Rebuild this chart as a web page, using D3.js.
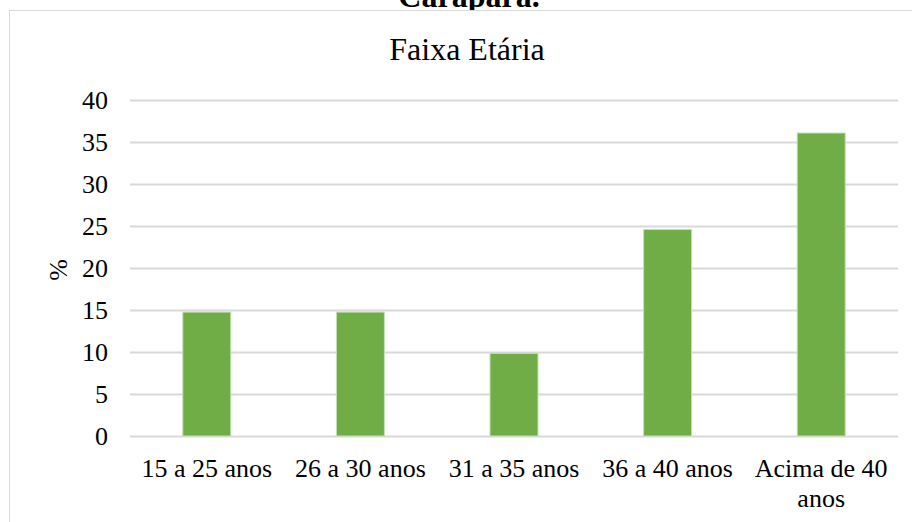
<!DOCTYPE html>
<html>
<head>
<meta charset="utf-8">
<script src="https://cdn.jsdelivr.net/npm/d3@7"></script>
<style>
  html, body { margin: 0; padding: 0; background: #fff; }
  svg { display: block; }
  svg text { font-family: "Times New Roman", Times, "Liberation Serif", Tinos, "DejaVu Serif", serif; fill: #000; }
</style>
</head>
<body>
<svg id="chart" width="912" height="522"></svg>
<script>
// Age groups and their share of respondents (%)
const categories = ["15 a 25 anos", "26 a 30 anos", "31 a 35 anos", "36 a 40 anos", "Acima de 40 anos"];
const percentages = [14.75, 14.75, 9.84, 24.59, 36.07];
const yTicks = [0, 5, 10, 15, 20, 25, 30, 35, 40];

const serif = '"Times New Roman", Times, "Liberation Serif", Tinos, "DejaVu Serif", serif';
const svg = d3.select("#chart");

// caption line from the surrounding document, cut by the top edge
svg.append("text")
  .attr("x", 469).attr("y", 7)
  .attr("text-anchor", "middle")
  .attr("font-family", serif)
  .style("font-weight", "bold")
  .style("font-size", "32px")
  .text("Carapará.");

// chart frame
svg.append("rect")
  .attr("x", 9.5).attr("y", 10.5)
  .attr("width", 920).attr("height", 530)
  .attr("fill", "#fff")
  .attr("stroke", "#d9d9d9")
  .attr("stroke-width", 1);

const plot = { left: 130, right: 898, top: 100, bottom: 436 };

const x = d3.scaleBand()
  .domain(categories)
  .range([plot.left, plot.right])
  .paddingInner(0.6875)
  .paddingOuter(0.34375);

const y = d3.scaleLinear()
  .domain([0, 40])
  .range([plot.bottom, plot.top]);

// title
svg.append("text")
  .attr("x", 467).attr("y", 60)
  .attr("text-anchor", "middle")
  .attr("font-family", serif)
  .style("font-size", "32px")
  .text("Faixa Etária");

// horizontal gridlines
svg.append("g")
  .selectAll("line")
  .data(yTicks)
  .join("line")
  .attr("x1", plot.left).attr("x2", plot.right)
  .attr("y1", d => Math.round(y(d)) + 0.5)
  .attr("y2", d => Math.round(y(d)) + 0.5)
  .attr("stroke", "#d9d9d9")
  .attr("stroke-width", 2);

// y axis labels
const yAxis = d3.axisLeft(y).tickValues(yTicks).tickSize(0).tickPadding(0);
const yg = svg.append("g")
  .attr("transform", `translate(108,0)`)
  .call(yAxis)
  .attr("font-family", serif)
  .attr("font-size", 26);
yg.select(".domain").remove();
yg.selectAll("text")
  .attr("dy", "0.34em")
  .attr("fill", "#000");

// y axis title
svg.append("text")
  .attr("transform", "translate(67,270) rotate(-90)")
  .attr("text-anchor", "middle")
  .attr("font-family", serif)
  .style("font-size", "26px")
  .text("%");

// bars
svg.append("g")
  .selectAll("rect")
  .data(categories.map((c, i) => ({ c, v: percentages[i] })))
  .join("rect")
  .attr("x", d => x(d.c))
  .attr("y", d => y(d.v))
  .attr("width", x.bandwidth())
  .attr("height", d => y(0) - y(d.v))
  .attr("fill", "#70ad47")
  .attr("stroke", "#c5e0b4")
  .attr("stroke-width", 1);

// category labels, wrapped like the source chart
const xAxis = d3.axisBottom(x).tickSize(0).tickPadding(0);
const xg = svg.append("g")
  .attr("transform", `translate(0,${plot.bottom})`)
  .call(xAxis)
  .attr("font-family", serif)
  .attr("font-size", 26);
xg.select(".domain").remove();
xg.selectAll("text").each(function(d) {
  const t = d3.select(this);
  t.text(null)
    .attr("y", 0).attr("dy", null)
    .attr("fill", "#000");
  const lines = d === "Acima de 40 anos" ? ["Acima de 40", "anos"] : [d];
  lines.forEach((ln, i) => {
    t.append("tspan").attr("x", 0).attr("y", 41 + i * 30).text(ln);
  });
});
</script>
</body>
</html>
